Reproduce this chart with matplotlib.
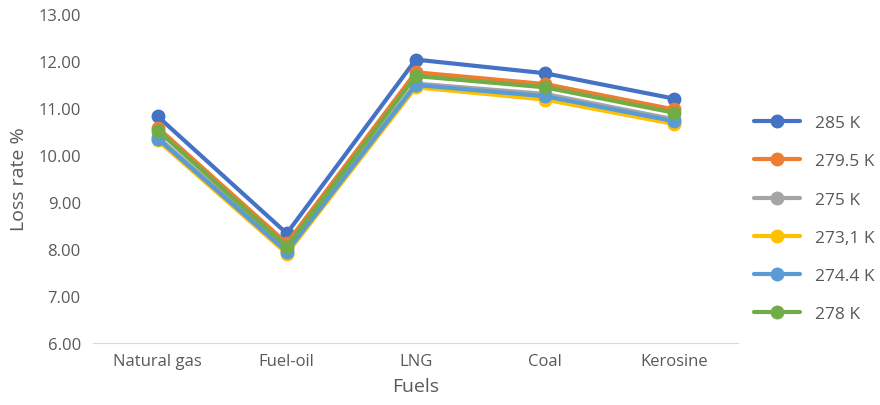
import matplotlib
matplotlib.use("Agg")
import matplotlib.pyplot as plt

# loss rate per fuel at each temperature
fuels = ["Natural gas", "Fuel-oil", "LNG", "Coal", "Kerosine"]
labels = ["285 K", "279.5 K", "275 K", "273,1 K", "274.4 K", "278 K"]
k285 = [10.82, 8.33, 12.03, 11.74, 11.20]
k279_5 = [10.58, 8.12, 11.76, 11.51, 10.97]
k275 = [10.38, 7.97, 11.52, 11.30, 10.76]
k273_1 = [10.31, 7.90, 11.44, 11.18, 10.66]
k274_4 = [10.35, 7.94, 11.49, 11.25, 10.72]
k278 = [10.52, 8.05, 11.68, 11.44, 10.90]
series = [k285, k279_5, k275, k273_1, k274_4, k278]
colors = ["#4472C4", "#ED7D31", "#A5A5A5", "#FFC000", "#5B9BD5", "#70AD47"]

plt.rcParams['font.family'] = ['Open Sans', 'DejaVu Sans']
text_col = "#595959"

fig = plt.figure(figsize=(8.8, 4.06), dpi=100)
ax = fig.add_axes([0.106, 0.153, 0.733, 0.81])

x = range(len(fuels))
for vals, lab, c in zip(series, labels, colors):
    ax.plot(x, vals, color=c, lw=3, marker='o', ms=9, label=lab,
            solid_capstyle='round')

ax.set_xlim(-0.5, len(fuels) - 0.5)
ax.set_ylim(6, 13)
ax.set_yticks([6, 7, 8, 9, 10, 11, 12, 13])
ax.set_yticklabels(["%.2f" % v for v in ax.get_yticks()])
ax.set_xticks(list(x))
ax.set_xticklabels(fuels)

for s in ["top", "right", "left"]:
    ax.spines[s].set_visible(False)
ax.spines["bottom"].set_color("#D9D9D9")
ax.tick_params(axis='y', length=0, pad=9, labelsize=12, labelcolor=text_col)
ax.tick_params(axis='x', length=0, pad=7, labelsize=12, labelcolor=text_col)

ax.set_xlabel("Fuels", fontsize=14, color=text_col, labelpad=6)
ax.set_ylabel("Loss rate %", fontsize=14, color=text_col, labelpad=7)

fig.legend(loc='center left', bbox_to_anchor=(0.839, 0.459), frameon=False,
           fontsize=12.5, labelcolor=text_col, handlelength=2.65,
           labelspacing=1.27, handletextpad=0.85)

fig.savefig("out.png", dpi=100)
